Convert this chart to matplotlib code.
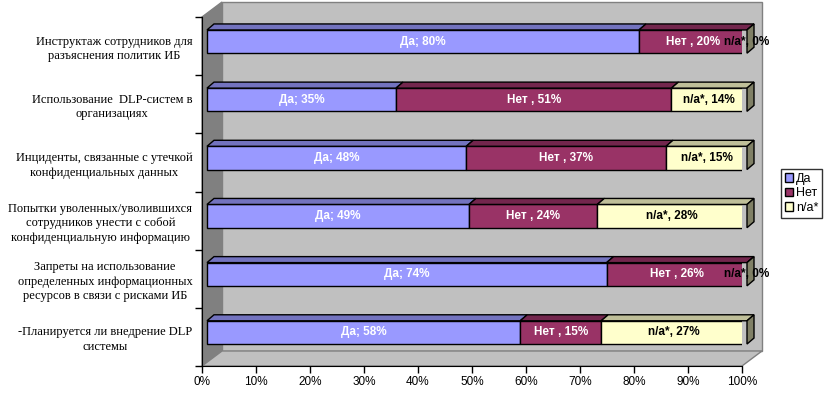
import numpy as np
import matplotlib.pyplot as plt
from matplotlib.transforms import ScaledTranslation, IdentityTransform
from matplotlib.patches import Polygon

plt.rcParams['font.family'] = ['Liberation Sans', 'DejaVu Sans']

categories = [
    'Инструктаж сотрудников для\nразъяснения политик ИБ',
    'Использование  DLP-систем в\nорганизациях',
    'Инциденты, связанные с утечкой\nконфиденциальных данных',
    'Попытки уволенных/уволившихся\nсотрудников унести с собой\nконфиденциальную информацию',
    'Запреты на использование\nопределенных информационных\nресурсов в связи с рисками ИБ',
    '-Планируется ли внедрение DLP\nсистемы',
]
yes = [80, 35, 48, 49, 74, 58]
no = [20, 51, 37, 24, 26, 15]
na = [0, 14, 15, 28, 0, 27]
series_names = ['Да', 'Нет', 'n/a*']
label_fmt = ['Да; {}%', 'Нет , {}%', 'n/a*, {}%']

face_colors = ['#9999FF', '#993366', '#FFFFCC']
top_colors = ['#7373BF', '#73264D', '#BFBF99']
side_color = '#808066'
text_colors = ['white', 'white', 'black']

W, H, DPI = 828, 397, 100
fig = plt.figure(figsize=(W / DPI, H / DPI), dpi=DPI)
ax = fig.add_axes([202 / W, 31 / H, 540 / W, 349 / H])
ax.patch.set_visible(False)

n = len(categories)
ypos = np.arange(n)
ax.set_xlim(0, 1)
ax.set_ylim(n - 0.5, -0.5)

wall = np.array([20, 15])      # depth of the walls, px
bar_front = np.array([5, 4.5])  # bars sit a bit behind the front plane
bar_depth = np.array([7, 6])
bar_h = 0.4


def px(x, y, off=(0, 0)):
    return ax.transData.transform((x, y)) + np.asarray(off)


ident = IdentityTransform()

# walls and floor
back = [px(0, -0.5, wall), px(1, -0.5, wall), px(1, n - 0.5, wall), px(0, n - 0.5, wall)]
ax.add_patch(Polygon(back, closed=True, transform=ident, facecolor='#C0C0C0',
                     edgecolor='#808080', lw=1, zorder=0, clip_on=False))
left_wall = [px(0, -0.5), px(0, -0.5, wall), px(0, n - 0.5, wall), px(0, n - 0.5)]
ax.add_patch(Polygon(left_wall, closed=True, transform=ident, facecolor='#808080',
                     edgecolor='#808080', lw=1, zorder=0, clip_on=False))
floor = [px(0, n - 0.5), px(1, n - 0.5), px(1, n - 0.5, wall), px(0, n - 0.5, wall)]
ax.add_patch(Polygon(floor, closed=True, transform=ident, facecolor='#C0C0C0',
                     edgecolor='#808080', lw=1, zorder=0, clip_on=False))

# 100% stacked shares
vals = np.array([yes, no, na], dtype=float)
shares = vals / vals.sum(axis=0)
lefts = np.vstack([np.zeros(n), np.cumsum(shares, axis=0)[:-1]])

shift = ax.transData + ScaledTranslation(bar_front[0] / DPI, bar_front[1] / DPI,
                                         fig.dpi_scale_trans)
handles = []
for k in range(3):
    h = ax.barh(ypos, shares[k], left=lefts[k], height=bar_h, color=face_colors[k],
                edgecolor='black', linewidth=1, transform=shift, zorder=2,
                label=series_names[k])
    handles.append(h)
    for i in range(n):
        x0, x1 = lefts[k][i], lefts[k][i] + shares[k][i]
        yt = ypos[i] - bar_h / 2
        top = [px(x0, yt, bar_front), px(x1, yt, bar_front),
               px(x1, yt, bar_front + bar_depth), px(x0, yt, bar_front + bar_depth)]
        ax.add_patch(Polygon(top, closed=True, transform=ident, facecolor=top_colors[k],
                             edgecolor='black', lw=1, zorder=2, clip_on=False))
        xc = (x0 + x1) / 2
        ax.text(xc, ypos[i], label_fmt[k].format(int(vals[k][i])), transform=shift,
                ha='center', va='center', fontsize=8.5, fontweight='bold',
                color=text_colors[k], zorder=4)

# right side of each bar
for i in range(n):
    yt, yb = ypos[i] - bar_h / 2, ypos[i] + bar_h / 2
    side = [px(1, yt, bar_front), px(1, yb, bar_front),
            px(1, yb, bar_front + bar_depth), px(1, yt, bar_front + bar_depth)]
    ax.add_patch(Polygon(side, closed=True, transform=ident, facecolor=side_color,
                         edgecolor='black', lw=1, zorder=3, clip_on=False))

# axes
for s in ['top', 'right']:
    ax.spines[s].set_visible(False)
ax.spines['left'].set_color('black')
ax.spines['bottom'].set_color('black')

xt = np.linspace(0, 1, 11)
ax.set_xticks(xt, [f'{int(round(v * 100))}%' for v in xt])
ax.tick_params(axis='x', direction='out', length=5, width=1, labelsize=8.5, pad=2)

ax.set_yticks(ypos, categories)
ax.set_yticks(np.arange(n + 1) - 0.5, minor=True)
ax.tick_params(axis='y', which='major', length=0, pad=7)
ax.tick_params(axis='y', which='minor', direction='out', length=5, width=1)
for lbl in ax.get_yticklabels():
    lbl.set_fontfamily(['Liberation Serif', 'DejaVu Serif'])
    lbl.set_fontsize(9)
    lbl.set_multialignment('center')
    lbl.set_linespacing(1.3)

leg = fig.legend(handles=handles, labels=series_names, loc='upper left',
                 bbox_to_anchor=(781 / W, 1 - 169 / H), fontsize=9,
                 frameon=True, fancybox=False, shadow=False, borderpad=0.3,
                 handlelength=0.7, handleheight=0.7, handletextpad=0.2,
                 labelspacing=0.2, borderaxespad=0)
leg.get_frame().set_edgecolor('black')
leg.get_frame().set_linewidth(1)

fig.savefig('out.png', dpi=DPI)
